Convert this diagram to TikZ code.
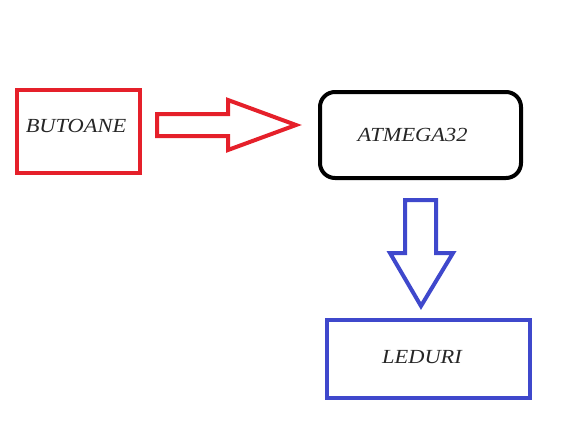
\documentclass[tikz,border=0pt]{standalone}
\usepackage{fontspec}
\setmainfont{Liberation Serif}
\definecolor{paintred}{HTML}{E5202A}
\definecolor{paintblue}{HTML}{3F48CC}
\tikzset{
	blockbox/.style={draw, line width=4pt, minimum width=#1, inner sep=0pt},
	label/.style={text=black!85, font=\fontsize{20}{22}\selectfont\itshape, xscale=1.12},
	bigarrow/.style={line width=4pt, line join=miter}
}
\begin{document}
\begin{tikzpicture}[x=1pt, y=-1pt]
		\useasboundingbox (0, 0) rectangle (575, 424);
		\node [blockbox=123pt, draw=paintred, minimum height=83pt] at (78.5, 131.5) (butoane) {};
		\node [blockbox=201pt, draw=black, minimum height=86pt, rounded corners=15pt] at (420.5, 135) (atmega) {};
		\node [blockbox=203pt, draw=paintblue, minimum height=78pt] at (428.5, 359) (leduri) {};
		\node [label] at (76, 126) {BUTOANE};
		\node [label] at (412.5, 135) {ATMEGA32};
		\node [label] at (422, 357) {LEDURI};
		\draw [bigarrow, paintred] (157, 114) -- (228, 114) -- (228, 100) -- (296, 125)
			-- (228, 150) -- (228, 136) -- (157, 136) -- cycle;
		\draw [bigarrow, paintblue] (405, 200) -- (436, 200) -- (436, 253) -- (453, 253)
			-- (421, 306) -- (390, 253) -- (405, 253) -- cycle;
	\end{tikzpicture}
\end{document}
